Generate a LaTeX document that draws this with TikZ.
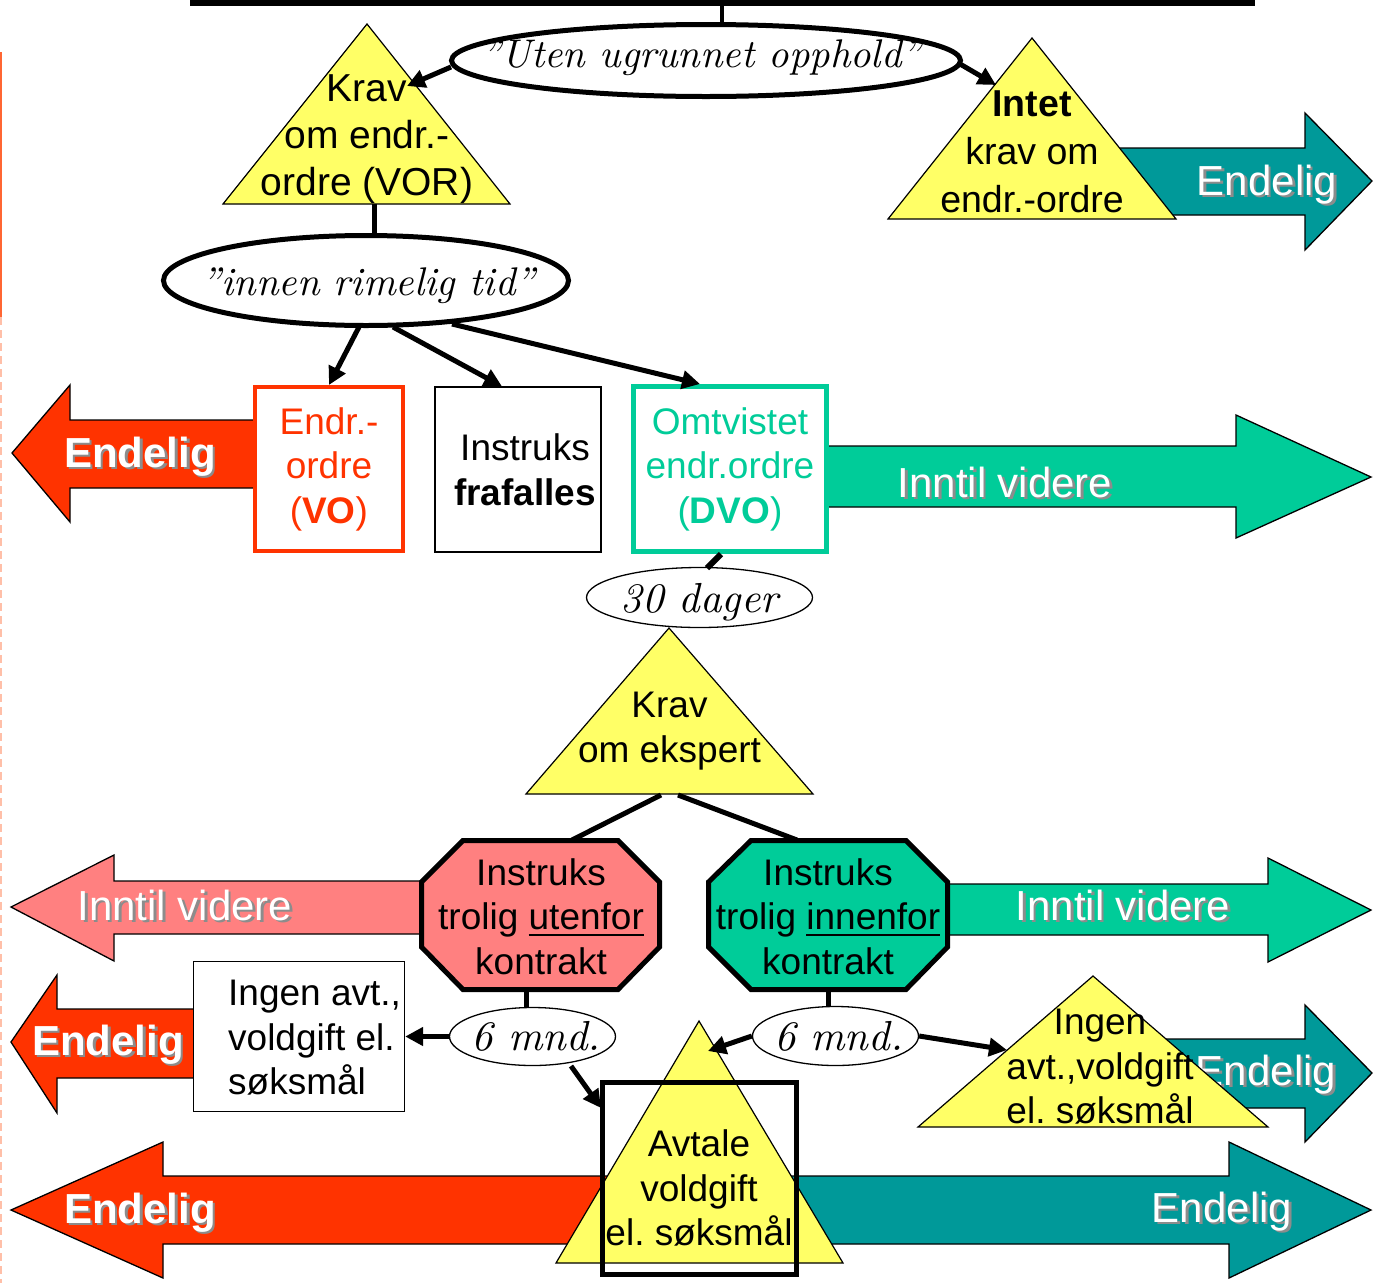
\documentclass[tikz,border=0pt]{standalone}
\usepackage{fontspec}
\setmainfont{Liberation Sans}
\newfontfamily\handfam{lmroman10-italic.otf}
\usetikzlibrary{arrows.meta,shapes.geometric}
\frenchspacing
\definecolor{tyellow}{HTML}{FFFF66}
\definecolor{tred}{HTML}{FF3300}
\definecolor{tteal}{HTML}{009999}
\definecolor{tgreen}{HTML}{00CC99}
\definecolor{tpink}{HTML}{FF8080}
\definecolor{edgeor}{HTML}{FF6633}
\definecolor{edgepale}{HTML}{FFBFA8}
\newcommand\bodyfont{\fontsize{37}{44.5}\selectfont}
\newcommand\vorfont{\fontsize{39}{47}\selectfont}
\newcommand\intetfont{\fontsize{37.5}{48}\selectfont}
\newcommand\lblfont{\fontsize{42}{48}\selectfont}
\newsavebox\ulbox
\newcommand\ulin[1]{\sbox\ulbox{#1}\rlap{\rule[-6pt]{\wd\ulbox}{2.2pt}}\usebox\ulbox}
\tikzset{
  bigarrow/.style={draw=black, line width=1.3pt, line join=miter},
  tri/.style={draw=black, line width=1.2pt, fill=tyellow},
  octo/.style={draw=black, line width=5pt, line join=miter},
  txt/.style={inner sep=0pt, align=center, font=\bodyfont},
  lbl/.style={inner sep=0pt, font=\lblfont, anchor=base},
  hand/.style={inner sep=0pt, anchor=base, font=\handfam\fontsize{40}{46}\selectfont},
  handsmall/.style={inner sep=0pt, anchor=base, font=\handfam\fontsize{42}{46}\selectfont},
  conn/.style={line width=5pt, -{Triangle[length=18pt,width=18pt]}},
  link/.style={line width=5pt},
  oval/.style={ellipse, draw=black, fill=white, inner sep=0pt},
}
\newcommand\arrowlbl[4]{%
  \node[lbl, text=black!45] at (#2+2.5,#3+2.5) {#4};
  \node[lbl, text=white] (#1) at (#2,#3) {#4};}
\begin{document}
\begin{tikzpicture}[x=1pt,y=-1pt]
\useasboundingbox (0,0) rectangle (1373,1283);
% page edge
\draw[edgeor, line width=2pt] (1,52) -- (1,317);
\draw[edgepale, line width=2pt, dash pattern=on 8pt off 5pt] (1,317) -- (1,1283);
% top bar
\fill (190,0) rectangle (1255,6);
\coordinate (barmid) at (722,6);

% top right: teal arrow and "Intet" triangle
\draw[bigarrow, fill=tteal] (1100,148) -- (1305,148) -- (1305,113) -- (1372,181) -- (1305,250) -- (1305,215) -- (1100,215) -- cycle;
\arrowlbl{lTa}{1267}{195}{Endelig}
\draw[tri] (1032,38) -- (1176,219) -- (888,219) -- cycle;
\node[txt, font=\intetfont] (tIntet) at (1032,151.5) {\textbf{Intet}\\krav om\\endr.-ordre};

% top left: "Krav om endr.-ordre" triangle
\draw[tri] (367,24) -- (510,204) -- (223,204) -- cycle;
\node[txt, font=\vorfont] (tVOR) at (367,139.5) {Krav\\om endr.-\\ordre (VOR)};

% ellipses at top
\node[oval, line width=5pt, minimum width=509pt, minimum height=72pt] (e1) at (706,60.5) {};
\node[hand] (e1t) at (701.5,67) {”Uten ugrunnet opphold”};
\node[oval, line width=5pt, minimum width=405pt, minimum height=90pt] (e2) at (366,280.5) {};
\node[hand] (e2t) at (368.5,295) {”innen rimelig tid”};

% row 2
\draw[bigarrow, fill=tred] (12,453) -- (70,385) -- (70,420) -- (256,420) -- (256,488) -- (70,488) -- (70,522) -- cycle;
\arrowlbl{lRa}{140}{467}{\textbf{Endelig}}
\draw[bigarrow, fill=tgreen] (826,446) -- (1236,446) -- (1236,415) -- (1371,477) -- (1236,538) -- (1236,507) -- (826,507) -- cycle;
\arrowlbl{lGa}{1005}{497}{Inntil videre}
\node[draw=tred, fill=white, line width=4pt, minimum width=148pt, minimum height=164pt, txt, text=tred] (vo) at (329,469) {Endr.-\\ordre\\(\textbf{VO})};
\node[draw=black, fill=white, line width=1.3pt, minimum width=166pt, minimum height=165pt] (ins) at (518,469.5) {};
\node[txt] (inst) at (525,470) {Instruks\\\textbf{frafalles}};
\node[draw=tgreen, fill=white, line width=5pt, minimum width=193pt, minimum height=165pt, txt, text=tgreen] (dvo) at (730,469) {Omtvistet\\endr.ordre\\(\textbf{DVO})};

% 30 dager and Krav om ekspert
\node[oval, line width=1.3pt, minimum width=226pt, minimum height=60pt] (e3) at (699.5,597.5) {};
\node[handsmall] (e3t) at (699.5,612) {30 dager};
\draw[tri] (669,628) -- (813,794) -- (526,794) -- cycle;
\node[txt] (tEksp) at (669.5,731) {Krav\\om ekspert};

% row of octagons
\draw[bigarrow, fill=tpink] (11,907) -- (114,855) -- (114,881) -- (430,881) -- (430,934) -- (114,934) -- (114,961) -- cycle;
\arrowlbl{lP}{185}{920}{Inntil videre}
\draw[bigarrow, fill=tgreen] (940,884) -- (1268,884) -- (1268,858) -- (1371,910) -- (1268,962) -- (1268,935) -- (940,935) -- cycle;
\arrowlbl{lGb}{1123}{920}{Inntil videre}
\draw[octo, fill=tpink] (463,840.5) -- (618,840.5) -- (659.5,882) -- (659.5,947) -- (618,989.5) -- (463,989.5) -- (421.5,947) -- (421.5,882) -- cycle;
\node[txt] (tUt) at (541,916.5) {Instruks\\trolig \ulin{utenfor}\\kontrakt};
\draw[octo, fill=tgreen] (751,840.5) -- (906,840.5) -- (947.5,882) -- (947.5,947) -- (906,989.5) -- (751,989.5) -- (708.5,947) -- (708.5,882) -- cycle;
\node[txt] (tInn) at (828,916.5) {Instruks\\trolig \ulin{innenfor}\\kontrakt};

% row "6 mnd."
\draw[bigarrow, fill=tred] (11,1042) -- (57,975) -- (57,1009) -- (200,1009) -- (200,1078) -- (57,1078) -- (57,1113) -- cycle;
\arrowlbl{lRb}{108}{1055}{\textbf{Endelig}}
\node[draw=black, fill=white, line width=1.3pt, minimum width=211pt, minimum height=150pt] (ingbox) at (299,1036.5) {};
\node[txt, align=left, anchor=west] (ingt) at (228,1038) {Ingen avt.,\\voldgift el.\\søksmål};
\node[oval, line width=1.3pt, minimum width=166pt, minimum height=58pt] (e4) at (532.5,1036.5) {};
\node[handsmall] (e4t) at (536,1050) {6 mnd.};
\node[oval, line width=1.3pt, minimum width=166pt, minimum height=59pt] (e5) at (835.5,1036) {};
\node[handsmall] (e5t) at (838.5,1050) {6 mnd.};
\draw[bigarrow, fill=tteal] (1150,1039) -- (1305,1039) -- (1305,1005) -- (1372,1073) -- (1305,1142) -- (1305,1108) -- (1150,1108) -- cycle;
\arrowlbl{lTb}{1266}{1085}{Endelig}
\draw[tri] (1093,976) -- (1268,1127) -- (918,1127) -- cycle;
\node[txt] (tIngen) at (1100,1067) {Ingen\\avt.,voldgift\\el. søksmål};

% bottom row
\draw[bigarrow, fill=tred] (11,1210) -- (163,1142) -- (163,1176) -- (640,1176) -- (640,1244) -- (163,1244) -- (163,1278) -- cycle;
\arrowlbl{lRc}{140}{1223}{\textbf{Endelig}}
\draw[bigarrow, fill=tteal] (760,1176) -- (1229,1176) -- (1229,1142) -- (1371,1210) -- (1229,1278) -- (1229,1244) -- (760,1244) -- cycle;
\arrowlbl{lTc}{1222}{1222}{Endelig}
\draw[tri] (699,1021) -- (843,1263) -- (556,1263) -- cycle;
\node[txt] (tAvt) at (699,1188) {Avtale\\voldgift\\el. søksmål};
\node[draw=black, line width=5pt, minimum width=194pt, minimum height=192pt] (rect) at (699.5,1178.5) {};

% connectors
\draw[link, line width=4pt] (barmid) -- (barmid |- e1.north);
\coordinate (e1L) at (451,67); \coordinate (t1R) at (407,86);
\draw[conn] (e1L) -- (t1R);
\coordinate (e1R) at (960,64); \coordinate (t2L) at (996,85);
\draw[conn] (e1R) -- (t2L);
\coordinate (t1B) at (374,204);
\draw[link] (t1B) -- (t1B |- e2.north);
\coordinate (e2a) at (359,327);
\draw[conn] (e2a) -- (vo.north);
\coordinate (e2b) at (393,327);
\draw[conn] (e2b) -- ([xshift=-16pt]ins.north);
\coordinate (e2c) at (452,324);
\draw[conn] (e2c) -- ([xshift=-30pt]dvo.north);
\coordinate (dvoS) at (721,554); \coordinate (e3in) at (707,568);
\draw[link, line width=6pt] (dvoS) -- (e3in);
\coordinate (t3a) at (661,795); \coordinate (o1T) at (572,840);
\coordinate (t3b) at (678,795); \coordinate (o2T) at (797,840);
\draw[link] (t3a) -- (o1T);
\draw[link] (t3b) -- (o2T);
\coordinate (o1B) at (526,990);
\draw[link] (o1B) -- (o1B |- e4.north);
\coordinate (o2B) at (828,990);
\draw[link] (o2B) -- (o2B |- e5.north);
\draw[conn] (e4.west) -- (ingbox.east);
\coordinate (e4d) at (571,1066); \coordinate (rIn) at (601,1108);
\draw[conn] (e4d) -- (rIn);
\coordinate (t4in) at (708,1051);
\draw[conn] (e5.west) -- (t4in);
\coordinate (t5in) at (1007,1050);
\draw[conn] (e5.east) -- (t5in);
\end{tikzpicture}
\end{document}
